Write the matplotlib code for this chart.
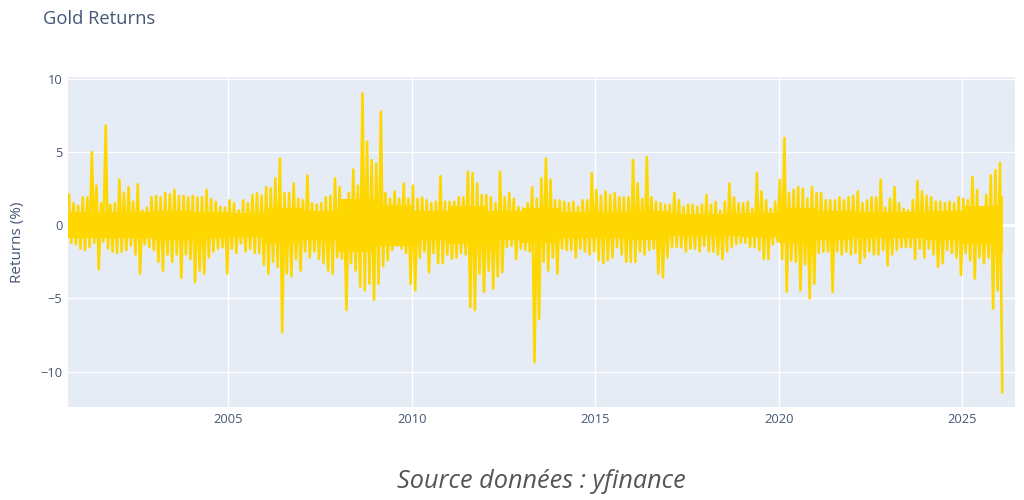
import numpy as np
import matplotlib
matplotlib.use("Agg")
import matplotlib.pyplot as plt

# Daily gold returns (%), read off the picture as the high / low of each
# 1/8-year slice (first slice starts 2000.625, last one is 2026.0).
first_bin = 2000.625
bin_width = 0.125

ret_high = [
    2.1, 1.5, 1.3,                                  # 2000
    1.9, 1.9, 5.0, 2.7, 1.5, 6.8, 1.4, 1.5,         # 2001
    3.1, 2.2, 2.6, 1.6, 2.8, 1.0, 1.2, 1.9,         # 2002
    2.0, 1.9, 2.2, 2.1, 2.4, 2.0, 2.0, 1.9,         # 2003
    2.0, 1.9, 1.9, 2.4, 1.8, 1.6, 1.25, 1.2,        # 2004
    1.7, 1.5, 1.0, 1.7, 1.5, 2.05, 2.2, 2.0,        # 2005
    2.6, 2.5, 3.2, 4.55, 2.2, 2.2, 2.85, 1.8,       # 2006
    1.7, 3.4, 1.5, 1.4, 1.5, 1.9, 2.0, 3.2,         # 2007
    2.6, 1.6, 2.2, 3.8, 2.7, 9.0, 5.7, 4.45,        # 2008
    4.2, 7.75, 2.2, 1.8, 2.3, 1.8, 2.85, 1.8,       # 2009
    2.7, 1.8, 1.9, 1.7, 1.5, 1.6, 3.35, 1.6,        # 2010
    1.6, 1.6, 1.9, 1.9, 3.65, 3.55, 2.85, 2.05,     # 2011
    2.05, 1.9, 1.5, 3.65, 1.9, 2.2, 1.8, 1.25,      # 2012
    1.15, 1.5, 2.6, 1.8, 3.2, 4.55, 3.1, 1.7,       # 2013
    1.7, 1.6, 1.5, 1.6, 1.25, 1.7, 1.7, 3.55,       # 2014
    2.4, 2.0, 2.3, 2.05, 2.2, 1.9, 1.9, 1.9,        # 2015
    4.45, 2.85, 1.8, 4.65, 1.9, 1.6, 1.5, 1.4,      # 2016
    1.4, 2.2, 1.7, 1.25, 1.4, 1.4, 1.25, 1.4,       # 2017
    2.05, 1.4, 1.6, 1.0, 1.6, 2.85, 1.9, 1.5,       # 2018
    1.5, 1.6, 1.1, 3.55, 2.3, 1.7, 1.1, 1.6,        # 2019
    3.1, 5.95, 2.2, 2.4, 2.6, 2.5, 1.8, 2.6,        # 2020
    2.2, 2.2, 1.7, 1.7, 1.7, 1.9, 1.7, 1.9,         # 2021
    2.0, 2.3, 1.5, 1.7, 1.9, 1.9, 3.1, 1.2,         # 2022
    1.8, 2.6, 1.5, 1.1, 1.0, 1.7, 3.0, 2.3,         # 2023
    2.0, 1.9, 1.6, 1.6, 1.5, 1.6, 1.5, 1.9,         # 2024
    1.8, 1.7, 3.3, 2.4, 1.25, 2.05, 3.4, 3.75,      # 2025
    4.27,                                           # 2026
]

ret_low = [
    -1.2, -1.3, -1.6,                                   # 2000
    -1.7, -1.5, -1.2, -3.0, -1.1, -1.6, -1.8, -1.9,     # 2001
    -1.8, -1.7, -1.4, -2.0, -3.3, -1.3, -1.5, -1.7,     # 2002
    -2.5, -3.1, -2.0, -2.5, -2.0, -3.6, -2.0, -2.3,     # 2003
    -3.9, -3.1, -3.3, -2.2, -1.8, -1.6, -1.5, -3.3,     # 2004
    -1.6, -1.9, -1.25, -1.8, -1.6, -1.9, -1.9, -2.7,    # 2005
    -3.3, -2.5, -2.85, -7.3, -3.3, -3.5, -2.3, -3.1,    # 2006
    -1.8, -2.2, -1.8, -2.3, -2.6, -3.1, -3.3, -2.2,     # 2007
    -2.3, -5.8, -2.6, -3.1, -4.2, -4.45, -4.0, -5.1,    # 2008
    -4.0, -2.8, -2.4, -1.7, -1.4, -1.6, -1.9, -4.0,     # 2009
    -4.45, -2.2, -1.8, -3.2, -1.9, -2.6, -2.6, -2.0,    # 2010
    -2.3, -2.2, -1.9, -2.0, -5.6, -5.8, -3.3, -4.55,    # 2011
    -3.1, -4.35, -3.5, -3.2, -1.5, -1.4, -2.3, -1.6,    # 2012
    -1.7, -1.8, -9.35, -6.4, -2.5, -3.1, -2.2, -3.3,    # 2013
    -1.6, -1.7, -1.7, -2.2, -1.6, -1.8, -2.0, -1.8,     # 2014
    -2.4, -2.6, -2.4, -2.2, -1.5, -2.0, -2.5, -2.5,     # 2015
    -2.5, -1.8, -2.0, -1.7, -1.6, -3.3, -3.55, -2.2,    # 2016
    -1.5, -1.5, -1.5, -1.8, -1.6, -1.6, -1.8, -1.4,     # 2017
    -1.8, -1.8, -2.0, -2.3, -1.8, -1.5, -1.3, -1.2,     # 2018
    -1.2, -1.5, -1.5, -1.7, -2.3, -2.3, -1.3, -1.1,     # 2019
    -2.3, -4.55, -2.4, -2.5, -4.45, -2.65, -5.0, -4.0,  # 2020
    -1.9, -1.8, -1.8, -4.55, -1.8, -2.0, -1.8, -2.0,    # 2021
    -1.9, -2.6, -2.2, -1.8, -2.0, -2.0, -1.7, -2.75,    # 2022
    -2.0, -1.7, -1.5, -1.5, -1.5, -2.3, -1.6, -2.2,     # 2023
    -1.6, -2.0, -2.85, -2.6, -1.7, -1.9, -2.2, -3.4,    # 2024
    -1.9, -2.4, -3.65, -2.2, -2.6, -2.2, -5.7, -4.45,   # 2025
    -11.4,                                              # 2026
]

# half-height of the solid yellow core (where the daily trace overlaps), per year
core_years = [2000.63, 2001, 2002, 2003, 2004, 2005, 2006, 2007, 2008, 2009,
              2010, 2011, 2012, 2013, 2014, 2015, 2016, 2017, 2018, 2019,
              2020, 2021, 2022, 2023, 2024, 2025, 2026, 2026.1]
core_half = [0.9, 0.9, 0.9, 1.0, 0.9, 0.8, 1.2, 1.0, 1.8, 1.4,
             1.0, 1.3, 1.0, 1.2, 0.9, 0.9, 1.0, 0.75, 0.75, 0.8,
             1.2, 1.0, 0.9, 0.9, 1.0, 1.3, 2.0, 2.0]

year_ticks = [2005, 2010, 2015, 2020, 2025]
value_ticks = [-10, -5, 0, 5, 10]

TEXT = "#465675"
GOLD = "#FFD700"


def zigzag(hi, lo, t0=first_bin, w=bin_width):
    """High then low inside each slice, like the dense daily trace."""
    hi = np.asarray(hi)
    lo = np.asarray(lo)
    starts = t0 + w * np.arange(len(hi))
    x = np.column_stack([starts + 0.25 * w, starts + 0.75 * w]).ravel()
    y = np.column_stack([hi, lo]).ravel()
    return x, y


def main():
    plt.rcParams["font.family"] = ["Open Sans", "DejaVu Sans"]
    fig = plt.figure(figsize=(10.24, 5.0), dpi=100)
    ax = fig.add_axes([0.0664, 0.186, 0.9248, 0.660])
    ax.set_facecolor("#E5ECF6")

    ax.axhline(0, color="white", lw=2.0, zorder=1)

    half = np.asarray(core_half)
    ax.fill_between(core_years, -half, half, step="post", color=GOLD,
                    lw=0, zorder=2)
    x, y = zigzag(ret_high, ret_low)
    ax.plot(x, y, color=GOLD, lw=1.9, zorder=3)

    ax.set_xlim(2000.63, 2026.44)
    ax.set_ylim(-12.42, 10.12)
    ax.set_xticks(year_ticks)
    ax.set_xticklabels([str(v) for v in year_ticks])
    ax.set_yticks(value_ticks)
    ax.grid(True, color="white", lw=1.0, zorder=0)
    ax.set_axisbelow(True)
    for s in ax.spines.values():
        s.set_visible(False)
    ax.tick_params(length=0, labelsize=9.3, colors=TEXT, pad=4)
    ax.set_ylabel("Returns (%)", fontsize=11, color=TEXT)
    ax.yaxis.set_label_coords(-0.045, 0.5)

    fig.text(0.042, 0.962, "Gold Returns", fontsize=13.2, color=TEXT,
             ha="left", va="center")
    fig.text(0.529, 0.036, "Source données : yfinance", fontsize=18.2,
             style="italic", color="#555555", ha="center", va="center")

    fig.savefig("out.png", dpi=100, facecolor="white")
    plt.close(fig)


if __name__ == "__main__":
    main()
